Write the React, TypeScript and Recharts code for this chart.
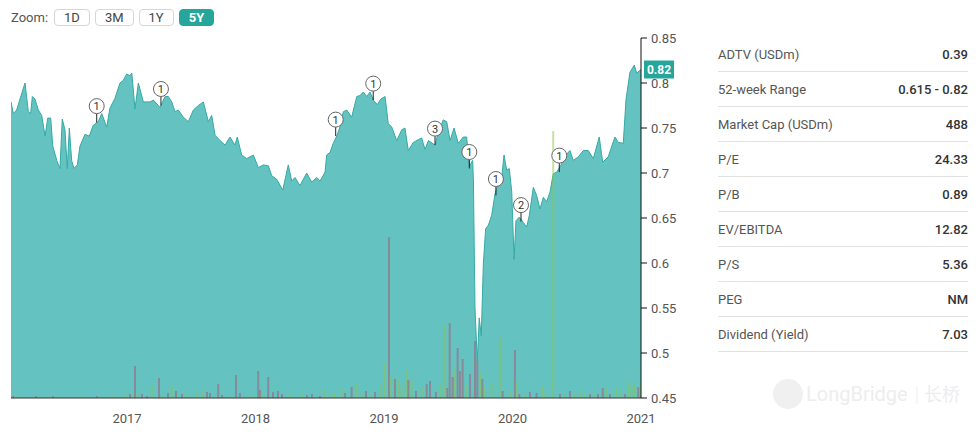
import React from "react";
import { ComposedChart, Area, Bar, XAxis, YAxis, ReferenceDot } from "recharts";

// dates are fractional years
const priceDates = [
  2016.097, 2016.115, 2016.141, 2016.206, 2016.232, 2016.25, 2016.263, 2016.284, 2016.309, 2016.336,
  2016.362, 2016.383, 2016.406, 2016.422, 2016.453, 2016.478, 2016.496, 2016.517, 2016.535, 2016.551,
  2016.569, 2016.587, 2016.613, 2016.634, 2016.673, 2016.706, 2016.737, 2016.776, 2016.803, 2016.842,
  2016.867, 2016.906, 2016.945, 2016.971, 2016.997, 2017.023, 2017.037, 2017.062, 2017.088, 2017.127,
  2017.179, 2017.205, 2017.244, 2017.257, 2017.296, 2017.321, 2017.348, 2017.374, 2017.399, 2017.438,
  2017.477, 2017.516, 2017.555, 2017.594, 2017.633, 2017.659, 2017.685, 2017.724, 2017.763, 2017.801,
  2017.84, 2017.858, 2017.892, 2017.931, 2017.983, 2018.022, 2018.061, 2018.1, 2018.126, 2018.165,
  2018.212, 2018.255, 2018.282, 2018.307, 2018.346, 2018.398, 2018.437, 2018.476, 2018.502, 2018.541,
  2018.554, 2018.58, 2018.605, 2018.632, 2018.657, 2018.683, 2018.71, 2018.748, 2018.788, 2018.813,
  2018.839, 2018.865, 2018.891, 2018.917, 2018.948, 2018.974, 2019.008, 2019.033, 2019.06, 2019.099,
  2019.138, 2019.163, 2019.189, 2019.228, 2019.267, 2019.293, 2019.319, 2019.345, 2019.397, 2019.422,
  2019.461, 2019.488, 2019.514, 2019.545, 2019.578, 2019.617, 2019.643, 2019.664, 2019.69, 2019.696,
  2019.708, 2019.726, 2019.741, 2019.757, 2019.773, 2019.791, 2019.812, 2019.838, 2019.864, 2019.889,
  2019.916, 2019.934, 2019.955, 2019.975, 2019.994, 2020.012, 2020.027, 2020.053, 2020.084, 2020.11,
  2020.131, 2020.162, 2020.188, 2020.214, 2020.24, 2020.266, 2020.292, 2020.317, 2020.344, 2020.37,
  2020.422, 2020.447, 2020.473, 2020.512, 2020.551, 2020.59, 2020.629, 2020.675, 2020.702, 2020.745,
  2020.797, 2020.823, 2020.862, 2020.883, 2020.914, 2020.948, 2020.966, 2021.0,
];
const priceValues = [
  0.779, 0.766, 0.77, 0.8, 0.768, 0.766, 0.785, 0.782, 0.77, 0.764,
  0.741, 0.761, 0.761, 0.73, 0.714, 0.705, 0.76, 0.748, 0.705, 0.75,
  0.714, 0.705, 0.709, 0.73, 0.743, 0.741, 0.753, 0.757, 0.766, 0.751,
  0.772, 0.783, 0.8, 0.803, 0.81, 0.808, 0.811, 0.771, 0.8, 0.779,
  0.779, 0.781, 0.775, 0.773, 0.785, 0.785, 0.779, 0.768, 0.77, 0.762,
  0.757, 0.77, 0.775, 0.779, 0.757, 0.764, 0.742, 0.736, 0.731, 0.74,
  0.731, 0.74, 0.72, 0.716, 0.72, 0.706, 0.709, 0.708, 0.697, 0.693,
  0.681, 0.709, 0.691, 0.695, 0.686, 0.7, 0.69, 0.695, 0.691, 0.701,
  0.72, 0.723, 0.733, 0.741, 0.751, 0.768, 0.77, 0.762, 0.785, 0.786,
  0.79, 0.785, 0.79, 0.781, 0.776, 0.782, 0.785, 0.755, 0.751, 0.736,
  0.748, 0.75, 0.725, 0.734, 0.737, 0.739, 0.726, 0.736, 0.731, 0.745,
  0.759, 0.757, 0.736, 0.75, 0.733, 0.74, 0.74, 0.707, 0.714, 0.69,
  0.55, 0.491, 0.539, 0.519, 0.599, 0.638, 0.642, 0.653, 0.677, 0.688,
  0.695, 0.72, 0.703, 0.705, 0.679, 0.604, 0.647, 0.651, 0.645, 0.64,
  0.653, 0.684, 0.675, 0.66, 0.673, 0.668, 0.679, 0.699, 0.701, 0.707,
  0.721, 0.725, 0.714, 0.718, 0.725, 0.725, 0.716, 0.74, 0.712, 0.718,
  0.74, 0.734, 0.733, 0.781, 0.812, 0.82, 0.811, 0.815,
];

// volume (USDm-ish units), up days are green
const volDates = [
  2016.113, 2016.151, 2016.292, 2016.424, 2016.673, 2016.766, 2016.891, 2016.984, 2017.023, 2017.062,
  2017.078, 2017.116, 2017.155, 2017.192, 2017.249, 2017.28, 2017.319, 2017.348, 2017.381, 2017.428,
  2017.467, 2017.545, 2017.583, 2017.622, 2017.646, 2017.71, 2017.739, 2017.801, 2017.848, 2017.879,
  2017.941, 2017.98, 2018.021, 2018.035, 2018.058, 2018.099, 2018.136, 2018.175, 2018.206, 2018.268,
  2018.361, 2018.4, 2018.439, 2018.502, 2018.541, 2018.593, 2018.618, 2018.671, 2018.696, 2018.748,
  2018.787, 2018.828, 2018.86, 2018.891, 2018.93, 2018.969, 2019.0, 2019.039, 2019.052, 2019.085,
  2019.111, 2019.137, 2019.171, 2019.189, 2019.215, 2019.249, 2019.293, 2019.332, 2019.358, 2019.404,
  2019.435, 2019.467, 2019.492, 2019.511, 2019.534, 2019.552, 2019.573, 2019.591, 2019.612, 2019.643,
  2019.669, 2019.708, 2019.726, 2019.747, 2019.765, 2019.786, 2019.838, 2019.902, 2019.923, 2019.98,
  2020.019, 2020.032, 2020.053, 2020.097, 2020.136, 2020.188, 2020.232, 2020.253, 2020.317, 2020.369,
  2020.408, 2020.447, 2020.486, 2020.525, 2020.564, 2020.603, 2020.642, 2020.665, 2020.702, 2020.727,
  2020.758, 2020.811, 2020.836, 2020.875, 2020.901, 2020.927, 2020.953, 2020.979, 2020.996,
];
const volValues = [
  0.2, 0.3, 0.2, 0.2, 0.2, 0.2, 0.3, 0.4, 0.4, 3.2,
  0.5, 0.4, 0.2, 1.3, 2.0, 0.3, 0.5, 1.2, 0.7, 0.4,
  0.4, 0.6, 0.6, 0.6, 0.5, 1.4, 0.3, 0.3, 2.3, 0.5,
  0.3, 0.3, 2.7, 0.8, 0.5, 2.1, 0.6, 0.7, 0.4, 0.4,
  0.4, 0.3, 0.4, 0.2, 0.9, 0.5, 0.4, 0.9, 0.5, 1.1,
  1.5, 0.5, 0.7, 0.4, 0.6, 1.3, 3.5, 16.1, 2.2, 1.9,
  1.8, 1.3, 2.8, 1.8, 1.9, 0.7, 1.0, 1.4, 1.7, 0.6,
  1.3, 7.2, 1.0, 7.5, 2.1, 2.8, 5.0, 2.7, 3.9, 1.2,
  2.4, 5.7, 3.8, 2.7, 1.9, 1.0, 1.5, 6.0, 0.7, 0.7,
  4.8, 1.7, 0.4, 0.4, 0.6, 0.5, 1.2, 0.4, 26.7, 0.4,
  0.3, 0.7, 0.4, 0.6, 0.5, 0.4, 0.4, 0.4, 1.0, 1.1,
  0.4, 1.1, 0.6, 0.4, 1.6, 1.3, 1.2, 1.1, 1.6,
];
const volUp = [
  0, 1, 0, 0, 1, 0, 1, 1, 0, 0,
  1, 0, 0, 1, 0, 1, 0, 1, 0, 0,
  1, 1, 1, 0, 0, 0, 0, 1, 0, 0,
  1, 1, 0, 0, 1, 0, 0, 0, 0, 1,
  1, 0, 0, 0, 1, 1, 1, 1, 0, 0,
  1, 1, 0, 1, 0, 1, 1, 0, 1, 0,
  1, 1, 1, 0, 1, 0, 1, 0, 0, 0,
  1, 1, 0, 0, 0, 1, 0, 0, 0, 1,
  0, 0, 0, 1, 0, 1, 1, 1, 0, 1,
  0, 1, 0, 1, 0, 0, 1, 1, 1, 0,
  1, 0, 1, 1, 1, 0, 1, 0, 0, 1,
  0, 1, 1, 0, 1, 1, 1, 0, 1,
];

const flagDates = [2016.764, 2017.264, 2018.624, 2018.916, 2019.397, 2019.664, 2019.871, 2020.066, 2020.364];
const flagPrices = [0.756, 0.775, 0.741, 0.781, 0.731, 0.705, 0.675, 0.646, 0.701];
const flagLabels = ["1", "1", "1", "1", "3", "1", "1", "2", "1"];

const yearTicks = [2017, 2018, 2019, 2020, 2021];
const priceTicks = [0.45, 0.5, 0.55, 0.6, 0.65, 0.7, 0.75, 0.8, 0.85];
const lastLabel = "0.82";

const zoomOptions = ["1D", "3M", "1Y", "5Y"];
const statLabels = ["ADTV (USDm)", "52-week Range", "Market Cap (USDm)", "P/E", "P/B", "EV/EBITDA", "P/S", "PEG", "Dividend (Yield)"];
const statValues = ["0.39", "0.615 - 0.82", "488", "24.33", "0.89", "12.82", "5.36", "NM", "7.03"];

const TEAL = "#26a69a";

const rows = [
  ...priceDates.map((t, i) => ({ t, price: priceValues[i] })),
  ...volDates.map((t, i) => ({ t, vol: volValues[i], up: volUp[i] === 1 })),
].sort((a, b) => a.t - b.t);

// fixed 2px volume bar, centred on its date (band size is tiny on a numeric axis)
const VolBar = (p: any) => {
  if (!p.height || p.height <= 0) return null;
  const up = p.payload && p.payload.up;
  return (
    <rect
      x={p.x + p.width / 2 - 1}
      y={p.y}
      width={2}
      height={p.height}
      fill={up ? "#8bc34a" : "#878a99"}
      fillOpacity={up ? 0.5 : 1}
    />
  );
};

const Flag = ({ cx, cy, label }: any) => (
  <g>
    <line x1={cx} y1={cy} x2={cx} y2={cy - 9} stroke="#222" strokeWidth={1} />
    <circle cx={cx} cy={cy - 16.5} r={7.5} fill="#fff" stroke="#666" strokeWidth={1} />
    <text x={cx} y={cy - 16.5} dy={4} textAnchor="middle" fontSize={11} fill="#333" fontFamily="Roboto">
      {label}
    </text>
  </g>
);

const LastBadge = ({ cx, cy }: any) => (
  <g>
    <rect x={cx + 3} y={cy - 9} width={30} height={18} fill={TEAL} />
    <text x={cx + 18} y={cy} dy={4.5} textAnchor="middle" fontSize={12} fontWeight="bold" fill="#fff" fontFamily="Roboto">
      {lastLabel}
    </text>
  </g>
);

export default function App() {
  return (
    <div
      style={{
        position: "absolute",
        left: 0,
        top: 0,
        width: 979,
        height: 436,
        background: "#fff",
        fontFamily: "Roboto, sans-serif",
        overflow: "hidden",
      }}
    >
      {/* zoom buttons */}
      <div style={{ position: "absolute", left: 11, top: 9, height: 17, display: "flex", alignItems: "center", fontSize: 13, color: "#555" }}>
        <span style={{ marginRight: 6 }}>Zoom:</span>
        {zoomOptions.map((z) => {
          const active = z === "5Y";
          return (
            <div
              key={z}
              style={{
                boxSizing: "border-box",
                height: 17,
                padding: "0 9px",
                marginRight: 5,
                border: active ? `1px solid ${TEAL}` : "1px solid #d6d6d6",
                borderRadius: 4,
                background: active ? TEAL : "#fff",
                color: active ? "#fff" : "#444",
                fontWeight: active ? 700 : 400,
                fontSize: 13,
                lineHeight: "15px",
              }}
            >
              {z}
            </div>
          );
        })}
      </div>

      <div style={{ position: "absolute", left: 0, top: 0 }}>
        <ComposedChart width={700} height={436} data={rows} margin={{ top: 38, right: 9, left: 11, bottom: 8 }}>
          <XAxis
            dataKey="t"
            type="number"
            domain={[2016.097, 2021]}
            allowDataOverflow
            ticks={yearTicks}
            tickFormatter={(v) => String(v)}
            axisLine={{ stroke: "#333" }}
            tickLine={false}
            tick={{ fill: "#555", fontSize: 13, fontFamily: "Roboto" }}
            tickMargin={10}
            height={30}
          />
          <YAxis
            yAxisId="price"
            orientation="right"
            domain={[0.45, 0.85]}
            allowDataOverflow
            ticks={priceTicks}
            interval={0}
            axisLine={{ stroke: "#111" }}
            tickLine={{ stroke: "#111" }}
            tick={{ fill: "#555", fontSize: 13, fontFamily: "Roboto" }}
            tickMargin={4}
            width={50}
          />
          <YAxis yAxisId="vol" hide domain={[0, 36]} />
          <Area
            yAxisId="price"
            type="linear"
            dataKey="price"
            connectNulls
            stroke="#34aaa6"
            strokeWidth={1}
            fill="#64c3c0"
            fillOpacity={1}
            dot={false}
            activeDot={false}
            isAnimationActive={false}
          />
          <Bar yAxisId="vol" dataKey="vol" barSize={2} shape={VolBar} isAnimationActive={false} />
          {flagDates.map((d, i) => (
            <ReferenceDot
              key={`f-${i}`}
              yAxisId="price"
              x={d}
              y={flagPrices[i]}
              r={0}
              shape={(p: any) => <Flag {...p} label={flagLabels[i]} />}
            />
          ))}
          <ReferenceDot
            yAxisId="price"
            x={priceDates[priceDates.length - 1]}
            y={priceValues[priceValues.length - 1]}
            r={0}
            shape={(p: any) => <LastBadge {...p} />}
          />
        </ComposedChart>
      </div>

      {/* stats table */}
      <div style={{ position: "absolute", left: 718, top: 37, width: 250 }}>
        {statLabels.map((l, i) => (
          <div
            key={l}
            style={{
              height: 34,
              borderBottom: "1px solid #e2e2e2",
              display: "flex",
              alignItems: "center",
              justifyContent: "space-between",
              fontSize: 13,
            }}
          >
            <span style={{ color: "#555" }}>{l}</span>
            <span style={{ color: "#333", fontWeight: 500 }}>{statValues[i]}</span>
          </div>
        ))}
      </div>

      {/* watermark */}
      <svg style={{ position: "absolute", left: 760, top: 375 }} width={210} height={40}>
        <circle cx={28} cy={19} r={15} fill="#f0f0f0" />
        <text x={46} y={26} fontSize={20} fill="#ededed" fontFamily="Roboto">
          LongBridge
        </text>
        <line x1={157} y1={12} x2={157} y2={29} stroke="#ededed" />
        <text x={164} y={26} fontSize={18} fill="#ededed" fontFamily="Noto Sans CJK SC">
          长桥
        </text>
      </svg>
    </div>
  );
}
